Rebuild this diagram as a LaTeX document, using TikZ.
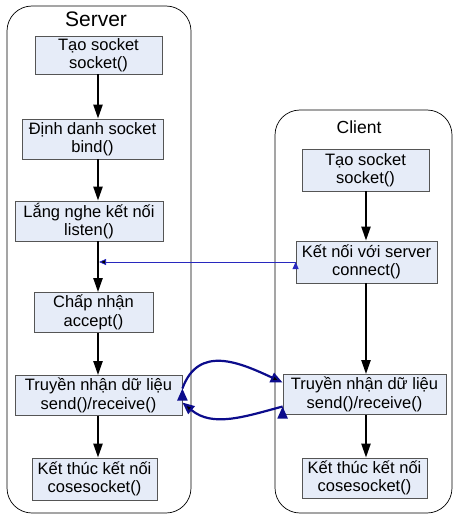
\documentclass[tikz,border=0pt]{standalone}
\usepackage{fontspec}
\setmainfont{Liberation Sans}
\usetikzlibrary{positioning}
\usetikzlibrary{arrows.meta}
\definecolor{boxfill}{RGB}{230,236,248}
\definecolor{boxline}{RGB}{85,85,85}
\definecolor{navy}{RGB}{12,12,140}
\definecolor{linkblue}{RGB}{40,40,190}

\begin{document}
\begin{tikzpicture}[
        x=1pt, y=-1pt,
        stepnode/.style={rectangle, draw=boxline, fill=boxfill, line width=0.8pt, align=center, inner sep=1pt, minimum height=40pt, font=\fontsize{16.5}{18.5}\selectfont},
        groupbox/.style={draw=black, line width=0.7pt, rounded corners=25pt},
        titlenode/.style={anchor=base, inner sep=0pt},
        flow/.style={-{Triangle[length=14pt,width=9pt]}, line width=2.2pt},
        link/.style={-{Triangle[length=7pt,width=6pt]}, draw=linkblue, line width=0.8pt},
        xfer/.style={-{Triangle[length=12pt,width=10pt]}, draw=navy, line width=2.2pt},
        ]
        \useasboundingbox (0,0) rectangle (456,516);

        %Groups
        \draw[groupbox] (7,6) rectangle (191,513);
        \draw[groupbox] (275,110) rectangle (452,513);
        \node[titlenode, font=\fontsize{21}{24}\selectfont] (srvtitle) at (96,27)  {Server};
        \node[titlenode, font=\fontsize{17.5}{21}\selectfont] (clititle) at (359,133) {Client};

        \coordinate (sx) at (98,0);
        \coordinate (cx) at (366,0);

        %Nodes
        \node[stepnode, minimum width=127pt, minimum height=38pt] (s1) at (98.5,55)   {Tạo socket\\socket()};
        \node[stepnode, minimum width=141pt] (s2) at (92.5,139)  {Định danh socket\\bind()};
        \node[stepnode, minimum width=148pt] (s3) at (89,221)    {Lắng nghe kết nối\\listen()};
        \node[stepnode, minimum width=119pt] (s4) at (93.5,312.5) {Chấp nhận\\accept()};
        \node[stepnode, minimum width=167pt] (s5) at (98.5,395.5) {Truyền nhận dữ liệu\\send()/receive()};
        \node[stepnode, minimum width=125pt, minimum height=42pt] (s6) at (94.5,479) {Kết thúc kết nối\\cosesocket()};

        \node[stepnode, minimum width=127pt, minimum height=42pt] (c1) at (365.5,170) {Tạo socket\\socket()};
        \node[stepnode, minimum width=141pt, minimum height=42pt] (c2) at (366.5,262) {Kết nối với server\\connect()};
        \node[stepnode, minimum width=163pt] (c3) at (364.5,394.5) {Truyền nhận dữ liệu\\send()/receive()};
        \node[stepnode, minimum width=125pt] (c4) at (364.5,478)   {Kết thúc kết nối\\cosesocket()};

        %Lines
        \path[flow] (s1.south -| sx) edge (s2.north -| sx);
        \path[flow] (s2.south -| sx) edge (s3.north -| sx);
        \path[flow] (s3.south -| sx) edge (s4.north -| sx);
        \path[flow] (s4.south -| sx) edge (s5.north -| sx);
        \path[flow] (s5.south -| sx) edge (s6.north -| sx);

        \path[flow] (c1.south -| cx) edge (c2.north -| cx);
        \path[flow] (c2.south -| cx) edge (c3.north -| cx);
        \path[flow] (c3.south -| cx) edge (c4.north -| cx);

        \path[link] (c2.west) edge [shorten >=1pt] (c2.west -| sx);

        \path[xfer] ([yshift=7pt]s5.east)   edge [out=70, in=155, looseness=1.2] ([yshift=12pt]c3.west);
        \path[xfer] ([yshift=-12pt]c3.west) edge [out=195, in=-40] ([yshift=-7pt]s5.east);
\end{tikzpicture}
\end{document}
